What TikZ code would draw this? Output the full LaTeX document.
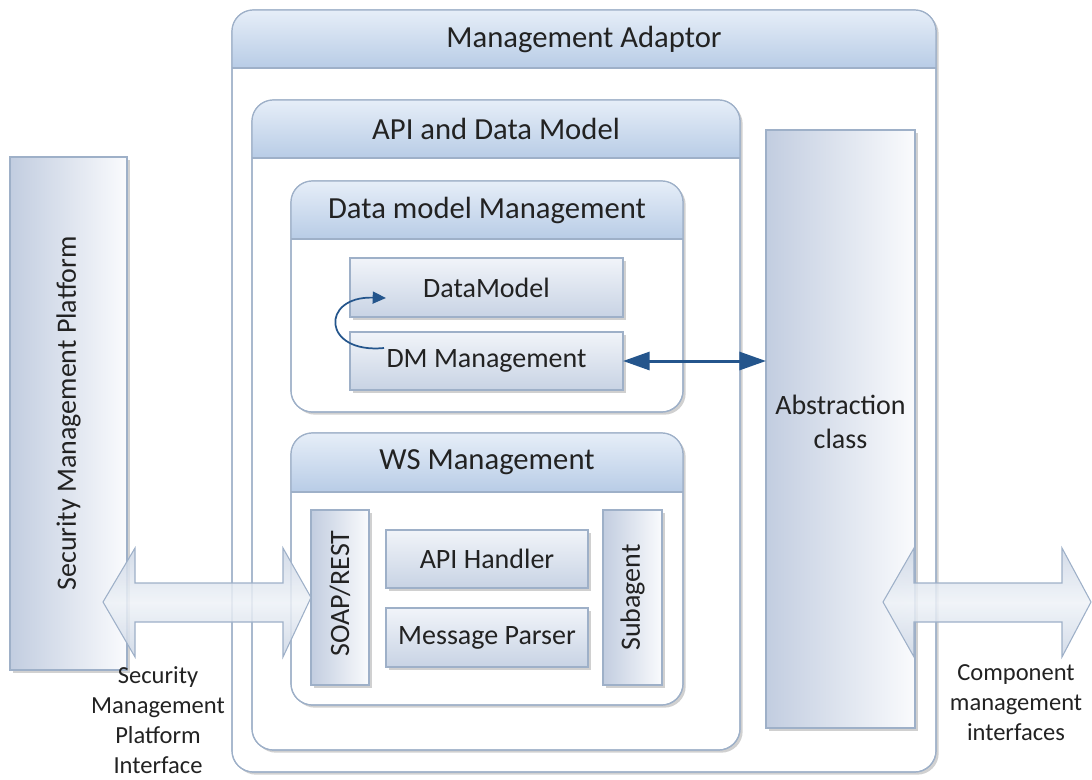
\documentclass[tikz,border=0pt]{standalone}
\usepackage{fontspec}
\setmainfont{Carlito}
\usetikzlibrary{shadows,calc,arrows.meta}
\definecolor{hdtop}{HTML}{E6EEF8}
\definecolor{hdbot}{HTML}{B8CCE6}
\definecolor{bord}{HTML}{9EB0C8}
\definecolor{boxtop}{HTML}{F1F4F9}
\definecolor{boxbot}{HTML}{C8D3E4}
\definecolor{vleft}{HTML}{C2CDE0}
\definecolor{vright}{HTML}{FAFBFD}
\definecolor{arr}{HTML}{24558C}
\definecolor{txt}{HTML}{222222}
\definecolor{arrside}{HTML}{CCD6E5}
\definecolor{arrmid}{HTML}{EEF2F7}

\tikzset{
 shadowed/.style={drop shadow={shadow xshift=2pt,shadow yshift=-2pt,opacity=0.3,fill=black!60}},
 container/.style={draw=bord, line width=0.9pt, fill=white, rounded corners=16pt, inner sep=0, outer sep=0, shadowed},
 hbox/.style={draw=bord, line width=0.8pt, top color=boxtop, bottom color=boxbot, inner sep=0, outer sep=0, shadowed, font=\fontsize{21}{25}\selectfont, text=txt},
 vbox/.style={draw=bord, line width=0.8pt, left color=vleft, right color=vright, inner sep=0, outer sep=0, shadowed},
 boxtext/.style={font=\fontsize{21}{25}\selectfont, text=txt, inner sep=0, align=center},
 hdtext/.style={font=\fontsize{23}{27}\selectfont, text=txt, inner sep=0, align=center},
 sidetext/.style={font=\fontsize{18.4}{22.5}\selectfont, text=txt, align=center, inner sep=0},
 bigarrow/.style={draw=bord, line width=0.8pt, top color=arrside, bottom color=arrside, middle color=arrmid, fill opacity=0.85},
}

\newcommand{\headband}[2]{%
 \begin{scope}
 \clip[rounded corners=16pt] (#1.north west) rectangle (#1.south east);
 \shade[top color=hdtop,bottom color=hdbot] (#1.north west) rectangle ($(#1.north east)+(0,#2)$);
 \end{scope}
 \draw[bord,line width=0.9pt] ($(#1.north west)+(0,#2)$) -- ($(#1.north east)+(0,#2)$);
 \draw[bord,line width=0.9pt,rounded corners=16pt] (#1.north west) rectangle (#1.south east);
}

\begin{document}
\begin{tikzpicture}[x=0.75pt,y=-0.75pt]
\useasboundingbox (0,0) rectangle (1092,779);

% Security Management Platform
\node[vbox, minimum width=87.75pt, minimum height=384.75pt] (smp) at (68.5,413.5) {};
\node[boxtext, rotate=90] (smpT) at (smp) {Security Management Platform};

% Management Adaptor
\node[container, minimum width=528pt, minimum height=571.5pt] (outer) at (584,391) {};
\headband{outer}{58}
\node[hdtext] (outerT) at ($(outer.north)+(0,29)$) {Management Adaptor};

% Abstraction class
\node[vbox, minimum width=111.75pt, minimum height=448.5pt] (abs) at (840.5,429) {};
\node[boxtext, text width=100pt] (absT) at (840.5,422) {Abstraction\\class};

% API and Data Model
\node[container, minimum width=366pt, minimum height=487.5pt] (api) at (496,425) {};
\headband{api}{58}
\node[hdtext] (apiT) at ($(api.north)+(0,29)$) {API and Data Model};

% Data model Management
\node[container, minimum width=294pt, minimum height=173.25pt] (dmm) at (487,296.5) {};
\headband{dmm}{58}
\node[hdtext] (dmmT) at ($(dmm.north)+(0,29)$) {Data model Management};

\node[hbox, minimum width=204.75pt, minimum height=44.25pt] (datamodel) at (486.5,287.5) {DataModel};
\node[hbox, minimum width=204.75pt, minimum height=43.5pt] (dmmgmt) at (486.5,361) {DM Management};

% WS Management
\node[container, minimum width=294pt, minimum height=204pt] (ws) at (487,569) {};
\headband{ws}{59}
\node[hdtext] (wsT) at ($(ws.north)+(0,29.5)$) {WS Management};

\node[vbox, minimum width=43.5pt, minimum height=131.25pt] (soap) at (340,597.5) {};
\node[boxtext, rotate=90] (soapT) at ($(soap)+(0,-4)$) {SOAP/REST};
\node[hbox, minimum width=151.5pt, minimum height=43.5pt] (apih) at (487,559) {API Handler};
\node[hbox, minimum width=151.5pt, minimum height=44.25pt] (msgp) at (487,637.5) {Message Parser};
\node[vbox, minimum width=44.25pt, minimum height=131.25pt] (sub) at (632.5,597.5) {};
\node[boxtext, rotate=90] (subT) at (sub) {Subagent};

% connectors
\draw[arr, line width=2.25pt, {Triangle[length=20pt,width=13.5pt]}-{Triangle[length=20pt,width=13.5pt]}] (dmmgmt.east) -- (dmmgmt.east -| abs.west);

\coordinate (cs) at ($(dmmgmt.north west)+(34,16)$);
\coordinate (ce) at ($(datamodel.south west)+(36,-19)$);
\draw[arr, line width=1.3pt, -{Triangle[length=10pt,width=9pt]}] (cs) .. controls (322,354) and (320,296) .. (ce);

% big double arrows
\coordinate (la) at (103,602);
\coordinate (lb) at (soap.west);
\draw[bigarrow] (la) -- ++(32,-54) -- ++(0,35) -- (283,583) -- ++(0,-35) -- (lb) -- (283,657) -- ++(0,-35) -- (135,622) -- ++(0,35) -- cycle;

\coordinate (ra) at (883,602);
\coordinate (rb) at (1091,602);
\draw[bigarrow] (ra) -- ++(31,-54) -- ++(0,35) -- (1062,583) -- ++(0,-35) -- (rb) -- (1062,657) -- ++(0,-35) -- (914,622) -- ++(0,35) -- cycle;

% side labels
\node[sidetext] (smpi) at (158,720) {Security\\Management\\Platform\\Interface};
\node[sidetext] (cmi) at (1016,703) {Component\\management\\interfaces};
\end{tikzpicture}
\end{document}
